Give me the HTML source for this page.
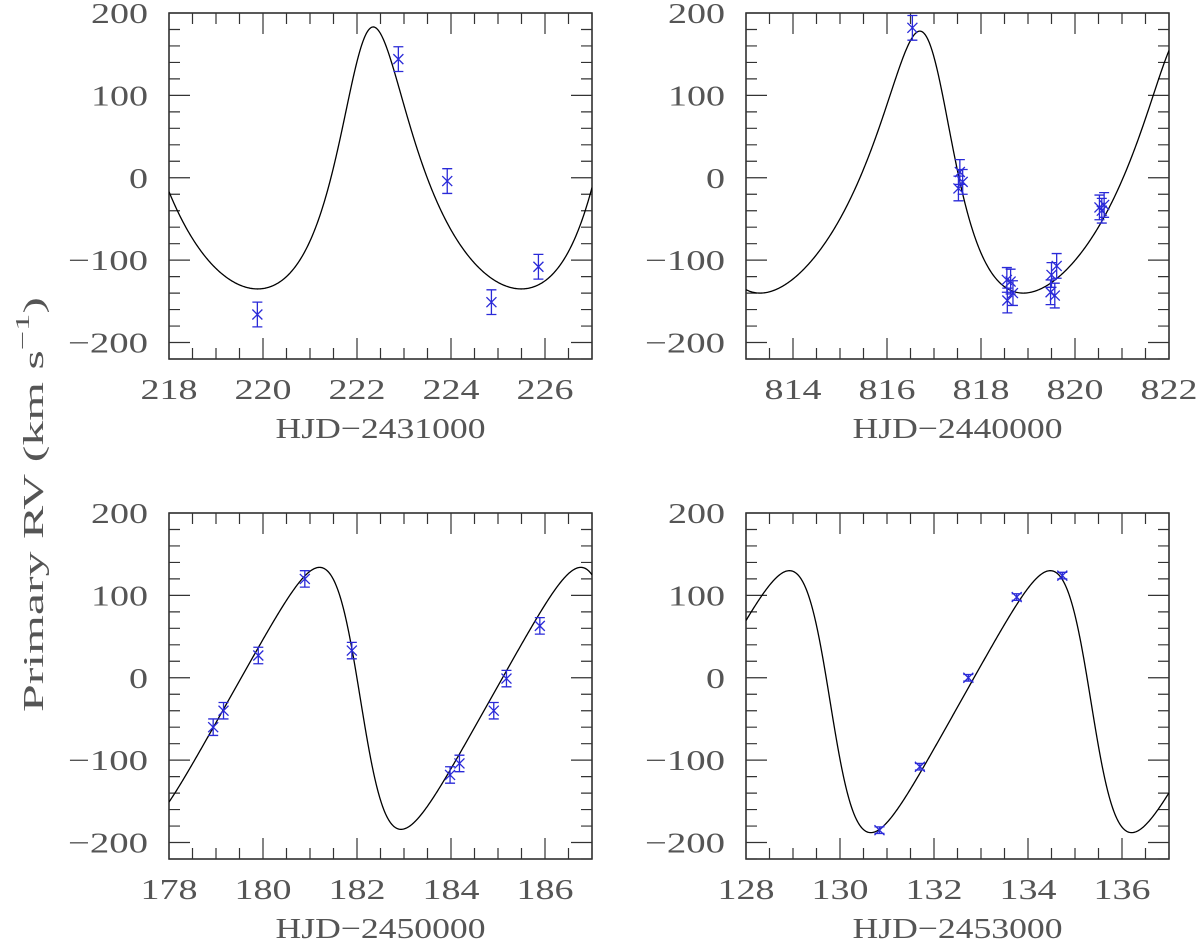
<!DOCTYPE html>
<html><head><meta charset="utf-8"><style>
html,body{margin:0;padding:0;background:#fff;}
svg{display:block;}
text{font-family:"Liberation Serif",serif;fill:#555;font-size:29px;}
</style></head><body>
<svg id="chart" width="1200" height="943" viewBox="0 0 1200 943" xmlns="http://www.w3.org/2000/svg">
<text transform="translate(43,712) rotate(-90)" textLength="415" lengthAdjust="spacingAndGlyphs">Primary RV (km s<tspan font-size="20" dy="-14">−1</tspan><tspan dy="14">)</tspan></text>
</svg>
<script>
// Panel data (HJD offsets, RV values km/s, errors)
const panelTitles = ["HJD−2431000","HJD−2440000","HJD−2450000","HJD−2453000"];
const xMins = [218, 813, 178, 128];
const xMaxs = [227, 822, 187, 137];
const xTickLabels = [[218,220,222,224,226],[814,816,818,820,822],[178,180,182,184,186],[128,130,132,134,136]];
const yTickLabels = [200,100,0,-100,-200];
const yMin = -220, yMax = 200;

const obsTimes = [
  [219.88,222.88,223.92,224.86,225.86],
  [816.54,817.55,817.61,817.52,818.55,818.63,818.68,818.56,819.50,819.61,819.48,819.57,820.52,820.62,820.57],
  [178.94,179.16,179.90,180.89,181.89,183.98,184.18,184.91,185.18,185.89],
  [130.84,131.70,132.73,133.76,134.73]
];
const obsRV = [
  [-166,144,-4,-151,-108],
  [182,7,-5,-13,-124,-126,-140,-149,-118,-107,-139,-143,-36,-33,-40],
  [-60,-40,27,120,33,-118,-104,-40,-1,63],
  [-185,-108,0,98,124]
];
const obsErr = [
  [15,15,15,15,15],
  [15,15,15,15,15,15,15,15,15,15,15,15,15,15,15],
  [10,10,10,10,10,10,10,10,10,10],
  [4,4,4,4,4]
];
// Orbital elements of the model curve per panel
const orbPeriod = [5.61, 5.60, 5.56, 5.55];
const orbEcc = [0.30, 0.30, 0.30, 0.30];
const orbK = [159, 159, 159, 159];
const orbOmegaDeg = [-18, 33, 90, 90];
const orbGamma = [-21.3, -21, -25, -29];
const orbT0 = [222.20, 816.97, 182.07, 135.34];

const NS = "http://www.w3.org/2000/svg";
const svg = document.getElementById("chart");
const frames = [
  {l:169,r:592,t:13,b:359},
  {l:746,r:1169,t:13,b:359},
  {l:169,r:592,t:513,b:859},
  {l:746,r:1169,t:513,b:859}
];
function mk(tag, attrs, parent){
  const el=document.createElementNS(NS,tag);
  for(const k in attrs) el.setAttribute(k,attrs[k]);
  (parent||svg).appendChild(el);
  return el;
}
function rvModel(t,i){
  const P=orbPeriod[i],e=orbEcc[i],K=orbK[i],w=orbOmegaDeg[i]*Math.PI/180;
  let M=2*Math.PI*(t-orbT0[i])/P;
  let E=M;
  for(let k=0;k<50;k++){E=E-(E-e*Math.sin(E)-M)/(1-e*Math.cos(E));}
  const nu=2*Math.atan2(Math.sqrt(1+e)*Math.sin(E/2),Math.sqrt(1-e)*Math.cos(E/2));
  return orbGamma[i]+K*(Math.cos(nu+w)+e*Math.cos(w));
}
function labelWidth(s){let w=0;for(const c of s){w+= (c==='−')?23:19;}return w;}

frames.forEach((f,i)=>{
  const g=mk("g",{});
  
  
  const xs=v=>f.l+(v-xMins[i])/(xMaxs[i]-xMins[i])*(f.r-f.l);
  const ys=v=>f.b-(v-yMin)/(yMax-yMin)*(f.b-f.t);
  const clipId="clip"+i;
  const cp=mk("clipPath",{id:clipId},g);
  mk("rect",{x:f.l,y:f.t,width:f.r-f.l,height:f.b-f.t},cp);
  const fr=mk("rect",{x:f.l,y:f.t,width:f.r-f.l,height:f.b-f.t,fill:"none",stroke:"#222","stroke-width":1.5},g);
  
  
  let d="";
  for(let v=xMins[i];v<=xMaxs[i]+1e-6;v+=0.5){
    const x=xs(v);const major=Math.abs(v%2)<1e-6 && ((v-xTickLabels[i][0])%2===0);
    const L=major?21:11;
    d+=`M${x},${f.b}v${-L}M${x},${f.t}v${L}`;
  }
  for(let v=-220;v<=200;v+=20){
    const y=ys(v);const major=(v%100===0);const L=major?21:11;
    d+=`M${f.l},${y}h${L}M${f.r},${y}h${-L}`;
  }
  const tk=mk("path",{d:d,stroke:"#333","stroke-width":1.2,fill:"none"},g);
  
  
  xTickLabels[i].forEach(v=>{
    const s=String(v);
    const t=mk("text",{x:xs(v),y:f.b+40,"text-anchor":"middle",textLength:labelWidth(s),lengthAdjust:"spacingAndGlyphs"},g);
    t.textContent=s;
    
    
  });
  yTickLabels.forEach(v=>{
    const s=(v<0?"−":"")+Math.abs(v);
    const t=mk("text",{x:f.l-21,y:ys(v)+10,"text-anchor":"end",textLength:labelWidth(s),lengthAdjust:"spacingAndGlyphs"},g);
    t.textContent=s;
    
    
  });
  const tt=mk("text",{x:(f.l+f.r)/2,y:f.b+79,"text-anchor":"middle",textLength:210,lengthAdjust:"spacingAndGlyphs"},g);
  tt.textContent=panelTitles[i];
  
  
  let pd="";
  const N=600;
  for(let k=0;k<=N;k++){
    const t=xMins[i]+(xMaxs[i]-xMins[i])*k/N;
    pd+=(k?"L":"M")+xs(t).toFixed(2)+","+ys(rvModel(t,i)).toFixed(2);
  }
  const cv=mk("path",{d:pd,fill:"none",stroke:"#000","stroke-width":1.3,"clip-path":`url(#${clipId})`},g);
  
  
  obsTimes[i].forEach((tv,j)=>{
    const x=xs(tv),y=ys(obsRV[i][j]),yt=ys(obsRV[i][j]+obsErr[i][j]),yb=ys(obsRV[i][j]-obsErr[i][j]);
    const c=5,m=5;
    const p=mk("path",{d:`M${x},${yt}V${yb}M${x-c},${yt}h${2*c}M${x-c},${yb}h${2*c}M${x-m},${y-m}l${2*m},${2*m}M${x-m},${y+m}l${2*m},${-2*m}`,stroke:"#2a2ad8","stroke-width":1.3,fill:"none"},g);
    
    
  });
});
</script>
</body></html>
